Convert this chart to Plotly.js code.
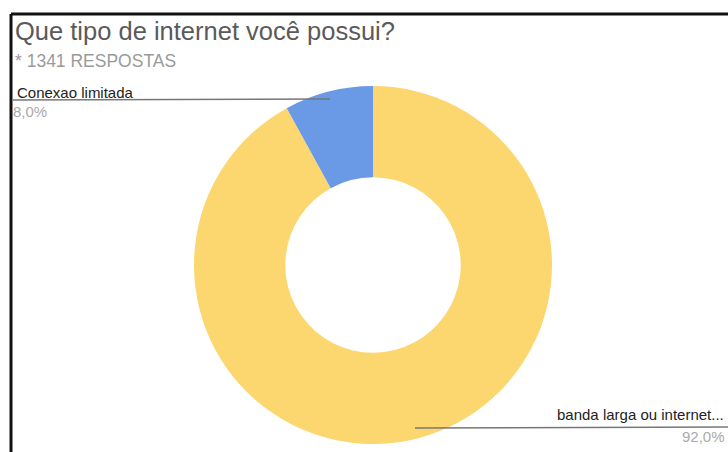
<!DOCTYPE html>
<html><head><meta charset="utf-8">
<script src="https://cdn.plot.ly/plotly-3.0.1.min.js"></script>
<style>html,body{margin:0;padding:0;background:#fff;}#c{width:728px;height:452px;}</style>
</head><body><div id="c"></div>
<script>
const labels = ["banda larga ou internet...", "Conexao limitada"];
const values = [92.0, 8.0];
const pctText = ["92,0%", "8,0%"];
const colors = ["#fcd770", "#6a9ae6"];
const title = "Que tipo de internet você possui?";
const subtitle = "* 1341 RESPOSTAS";

const W = 728, H = 452;
const px = x => x / W, py = y => 1 - y / H;

const data = [{
  type: "pie",
  labels: labels,
  values: values,
  hole: 0.49,
  sort: false,
  direction: "clockwise",
  rotation: 0,
  marker: {colors: colors, line: {width: 0}},
  textinfo: "none",
  hoverinfo: "none",
  showlegend: false,
  domain: {x: [px(194), px(552)], y: [py(444), py(86)]}
}];

const layout = {
  width: W, height: H,
  margin: {l: 0, r: 0, t: 0, b: 0},
  paper_bgcolor: "#fff",
  font: {family: "Liberation Sans, Arial, sans-serif"},
  shapes: [
    {type: "line", xref: "paper", yref: "paper", x0: px(11), x1: 1, y0: py(14), y1: py(14), line: {color: "#111", width: 3}},
    {type: "line", xref: "paper", yref: "paper", x0: px(11), x1: px(11), y0: py(14), y1: 0, line: {color: "#111", width: 3}},
    {type: "line", xref: "paper", yref: "paper", x0: px(13), x1: px(330), y0: py(100), y1: py(99), line: {color: "#777", width: 1.5}},
    {type: "line", xref: "paper", yref: "paper", x0: px(415), x1: 1, y0: py(428), y1: py(427), line: {color: "#777", width: 1.5}}
  ],
  annotations: [
    {text: title, xref: "paper", yref: "paper", x: px(13), y: py(31), xanchor: "left", yanchor: "middle", showarrow: false, font: {size: 25.5, color: "#5a5a5a"}},
    {text: subtitle, xref: "paper", yref: "paper", x: px(13), y: py(61), xanchor: "left", yanchor: "middle", showarrow: false, font: {size: 17.5, color: "#9a9a9a"}},
    {text: labels[1], xref: "paper", yref: "paper", x: px(15), y: py(93), xanchor: "left", yanchor: "middle", showarrow: false, font: {size: 15, color: "#222"}},
    {text: pctText[1], xref: "paper", yref: "paper", x: px(11), y: py(112), xanchor: "left", yanchor: "middle", showarrow: false, font: {size: 15, color: "#aaa"}},
    {text: labels[0], xref: "paper", yref: "paper", x: px(726), y: py(414), xanchor: "right", yanchor: "middle", showarrow: false, font: {size: 15, color: "#222"}},
    {text: pctText[0], xref: "paper", yref: "paper", x: px(727), y: py(436), xanchor: "right", yanchor: "middle", showarrow: false, font: {size: 15, color: "#aaa"}}
  ]
};

Plotly.newPlot("c", data, layout, {displayModeBar: false, staticPlot: true});
</script></body></html>
